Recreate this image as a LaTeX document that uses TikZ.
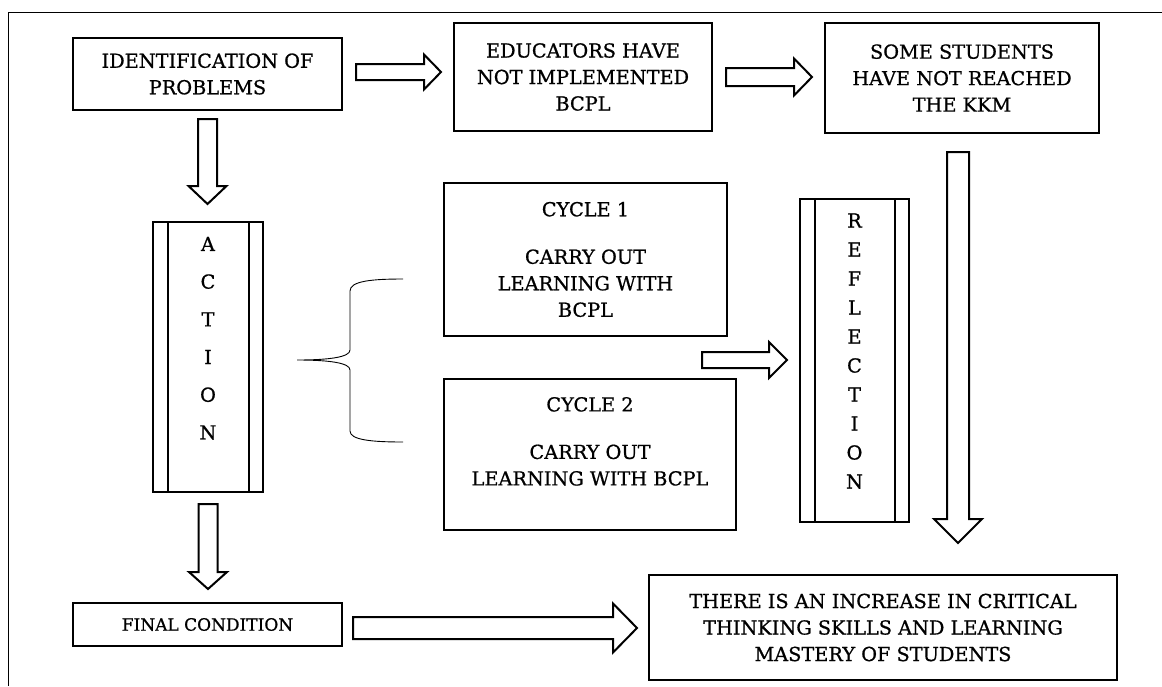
\documentclass[tikz,border=0pt]{standalone}
\usepackage{fontspec}
\setmainfont{DejaVu Serif}[FakeBold=0.8]
\usepackage{tikz}
\usetikzlibrary{positioning,calc}
% hollow block arrows: tail, tip, shaft half width, head half width, head length
\newcommand{\harrow}[5]{\draw[fat] ($(#1)+(0,#3)$) -- ($(#2)+(-#5,#3)$) -- ($(#2)+(-#5,#4)$) -- (#2)
  -- ($(#2)+(-#5,-#4)$) -- ($(#2)+(-#5,-#3)$) -- ($(#1)+(0,-#3)$) -- cycle;}
\newcommand{\varrow}[5]{\draw[fat] ($(#1)+(#3,0)$) -- ($(#2)+(#3,-#5)$) -- ($(#2)+(#4,-#5)$) -- (#2)
  -- ($(#2)+(-#4,-#5)$) -- ($(#2)+(-#3,-#5)$) -- ($(#1)+(-#3,0)$) -- cycle;}

\begin{document}
\begin{tikzpicture}[x=1pt,y=-1pt,
  font=\fontsize{19.3}{26.5}\selectfont,
  box/.style={draw,line width=2pt,align=center,inner sep=0pt},
  bar/.style={box,path picture={
      \draw[line width=2pt] ([xshift=15pt]path picture bounding box.north west) -- ([xshift=15pt]path picture bounding box.south west);
      \draw[line width=2pt] ([xshift=-14pt]path picture bounding box.north east) -- ([xshift=-14pt]path picture bounding box.south east);}},
  fat/.style={draw,line width=2pt,miter limit=20,fill=white}]
\useasboundingbox (0,0) rectangle (1162,686);
\draw[line width=1pt] (8,686) -- (8,12.3) -- (1162,12.3);

\node[box,minimum width=269pt,minimum height=72pt] (ident) at (207.5,74) {IDENTIFICATION OF\\PROBLEMS};
\node[box,minimum width=258pt,minimum height=108pt] (edu) at (583,77) {EDUCATORS HAVE\\NOT IMPLEMENTED\\BCPL};
\node[box,minimum width=274pt,minimum height=110pt] (stud) at (962,78) {SOME STUDENTS\\HAVE NOT REACHED\\THE KKM};
\node[bar,minimum width=110pt,minimum height=270pt,font=\fontsize{19.3}{37.7}\selectfont] (action) at (208,357) {A\\C\\T\\I\\O\\N\\~};
\node[box,minimum width=283pt,minimum height=153pt] (cyc1) at (585.5,259.5) {CYCLE 1\\[21pt]CARRY OUT\\LEARNING WITH\\BCPL};
\node[box,minimum width=292pt,minimum height=151pt] (cyc2) at (590,454.5) {CYCLE 2\\[21pt]CARRY OUT\\LEARNING WITH BCPL\\~};
\node[bar,minimum width=109pt,minimum height=323pt,font=\fontsize{19.3}{29}\selectfont] (refl) at (854.5,360.5) {R\\E\\F\\L\\E\\C\\T\\I\\O\\N\\[-10pt]~};
\node[box,minimum width=269pt,minimum height=43pt,font=\fontsize{17}{22}\selectfont] (fin) at (207.5,624.5) {FINAL CONDITION};
\node[box,minimum width=468pt,minimum height=105pt] (res) at (883,627.5) {THERE IS AN INCREASE IN CRITICAL\\THINKING SKILLS AND LEARNING\\MASTERY OF STUDENTS};

% arrows
\coordinate (a1) at ($(ident.east)+(13,-2)$);
\coordinate (b1) at ($(a1 -| edu.west)+(-12,0)$);
\coordinate (a2) at ($(edu.east)+(13,0)$);
\coordinate (b2) at ($(a2 -| stud.west)+(-12,0)$);
\coordinate (a3) at ($(ident.south)+(0,8)$);
\coordinate (b3) at ($(a3 |- action.north)+(0,-17)$);
\coordinate (a4) at ($(action.south)+(0,11)$);
\coordinate (b4) at ($(a4 |- fin.north)+(0,-13)$);
\coordinate (a5) at ($(stud.south)+(-4,18)$);
\coordinate (b5) at ($(a5 |- res.north)+(0,-31)$);
\coordinate (a6) at ($(cyc1.south east)+(-26,23)$);
\coordinate (b6) at ($(a6 -| refl.west)+(-12,0)$);
\coordinate (a7) at ($(fin.east)+(10,3.5)$);
\coordinate (b7) at ($(a7 -| res.west)+(-11,0)$);
\harrow{a1}{b1}{8}{17.5}{17}
\harrow{a2}{b2}{9}{18.5}{18}
\varrow{a3}{b3}{9.5}{19}{18}
\varrow{a4}{b4}{9.5}{19}{17}
\varrow{a5}{b5}{11}{24}{24}
\harrow{a6}{b6}{8}{18}{18}
\harrow{a7}{b7}{11}{24.5}{24}

% brace
\draw[line width=0.9pt] (403,279) .. controls (372,279) and (350,281) .. (350,291) -- (350,350)
  .. controls (350,357) and (330,360) .. (297,360) .. controls (330,360) and (350,363) .. (350,370)
  -- (350,431) .. controls (350,440) and (372,442) .. (403,442);
\end{tikzpicture}
\end{document}
